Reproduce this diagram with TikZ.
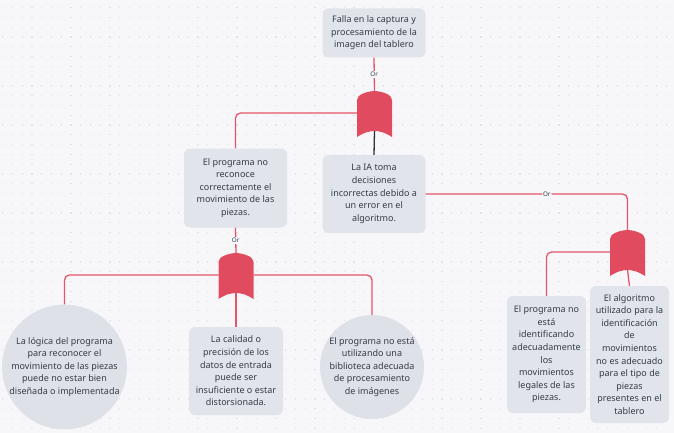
\documentclass[tikz,border=0pt]{standalone}
\usepackage{fontspec}
\setmainfont{Noto Sans}
\definecolor{bgc}{HTML}{F7F7F9}
\definecolor{dotc}{HTML}{E2E2E7}
\definecolor{boxc}{HTML}{E1E5EB}
\definecolor{circc}{HTML}{DEE2E8}
\definecolor{txtc}{HTML}{353B47}
\definecolor{gatec}{HTML}{E14B60}
\definecolor{linec}{HTML}{E4566A}
\definecolor{darkc}{HTML}{2E3138}
\tikzset{
  boxn/.style={fill=boxc, rounded corners=6pt, align=center, text=txtc,
    font=\fontsize{9}{12.6}\selectfont, inner sep=0pt},
  circn/.style={circle, fill=circc, align=center, text=txtc,
    font=\fontsize{9}{12.6}\selectfont, inner sep=0pt},
  redl/.style={draw=linec, line width=1.3pt},
  darkl/.style={draw=darkc, line width=1.3pt},
  rc/.style={rounded corners=5pt},
  orl/.style={fill=bgc, text=txtc, font=\fontsize{6.3}{7}\selectfont, inner sep=1pt},
  gate/.pic={
    \fill[gatec] (-17.5,9) .. controls (-17.5,4) and (-9,0.5) .. (0,0)
      .. controls (9,0.5) and (17.5,4) .. (17.5,9) -- (17.5,46)
      .. controls (10,41) and (4,40) .. (0,40)
      .. controls (-4,40) and (-10,41) .. (-17.5,46) -- cycle;
    \coordinate (-top) at (0,0);
    \coordinate (-left) at (-17.5,22);
    \coordinate (-right) at (17.5,22);
    \coordinate (-bot) at (0,40);
  }
}
\begin{document}
\begin{tikzpicture}[x=1pt,y=-1pt]
\useasboundingbox (0,0) rectangle (674,433);
\fill[bgc] (0,0) rectangle (674,433);
\foreach \i in {0,...,68}{\foreach \j in {0,...,43}{
  \fill[dotc] ({2.1+9.76*\i},{7.1+9.78*\j}) rectangle ++(1.2,1.2);}}

\node[boxn, minimum width=103pt, minimum height=49pt] (top) at (374,33)
  {Falla en la captura y\\procesamiento de la\\imagen del tablero};
\node[boxn, minimum width=103pt, minimum height=79pt] (b2) at (235.5,188)
  {El programa no\\reconoce\\correctamente el\\movimiento de las\\piezas.};
\node[boxn, minimum width=103pt, minimum height=78pt] (b3) at (374,194)
  {La IA toma\\decisiones\\incorrectas debido a\\un error en el\\algoritmo.};
\node[circn, minimum size=121pt] (c1) at (64.5,367)
  {La lógica del programa\\para reconocer el\\movimiento de las piezas\\puede no estar bien\\diseñada o implementada};
\node[boxn, minimum width=94pt, minimum height=88pt] (b6) at (236,371)
  {La calidad o\\precisión de los\\datos de entrada\\puede ser\\insuficiente o estar\\distorsionada.};
\node[circn, minimum size=104pt] (c2) at (372,367)
  {El programa no está\\utilizando una\\biblioteca adecuada\\de procesamiento\\de imágenes};
\node[boxn, minimum width=79pt, minimum height=117pt] (b4) at (546.5,354.5)
  {El programa no\\está\\identificando\\adecuadamente\\los\\movimientos\\legales de las\\piezas.};
\node[boxn, minimum width=79pt, minimum height=137pt] (b5) at (629.5,354.5)
  {El algoritmo\\utilizado para la\\identificación\\de\\movimientos\\no es adecuado\\para el tipo de\\piezas\\presentes en el\\tablero};

\pic (g1) at (374.5,91) {gate};
\pic (g2) at (236,253) {gate};
\pic (g3) at (627.5,230) {gate};

\draw[redl] (top.south) -- node[orl]{Or} (g1-top);
\draw[redl, rc] (g1-left) -| (b2.north);
\draw[darkl] (g1-bot) -- (b3.north);
\draw[redl] (b2.south) -- node[orl]{Or} (g2-top);
\draw[redl, rc] (g2-left) -| (c1.north);
\draw[redl, rc] (g2-right) -| (c2.north);
\draw[redl] (g2-bot) -- (b6.north);
\draw[redl, rc] (b3.east) -| node[orl, pos=0.3]{Or} (g3-top);
\draw[redl, rc] (g3-left) -| (b4.north);
\draw[redl] (g3-bot) -- (b5.north);
\end{tikzpicture}
\end{document}
